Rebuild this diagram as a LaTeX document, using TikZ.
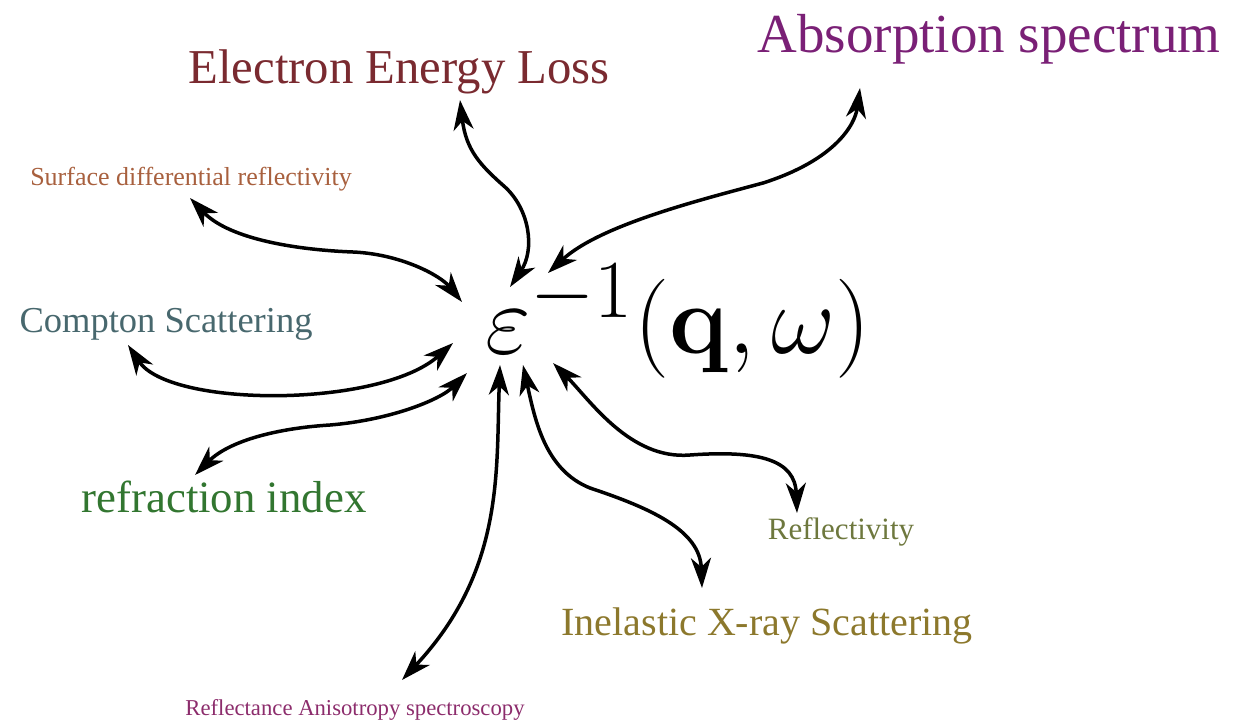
\documentclass[tikz,border=0pt]{standalone}
\usepackage{graphicx}
\usepackage[no-math]{fontspec}
\setmainfont{Liberation Serif}
\usetikzlibrary{arrows.meta}
\definecolor{cAbs}{RGB}{122,32,118}
\definecolor{cEel}{RGB}{122,42,48}
\definecolor{cSdr}{RGB}{168,96,62}
\definecolor{cCom}{RGB}{72,104,110}
\definecolor{cRef}{RGB}{50,118,48}
\definecolor{cRfl}{RGB}{110,120,62}
\definecolor{cIxs}{RGB}{140,120,44}
\definecolor{cRas}{RGB}{140,44,108}
\tikzset{
  lbl/.style={anchor=base, inner sep=0pt, outer sep=0pt},
  head/.tip={Stealth[length=30pt,width=20pt,inset=9pt]},
  link/.style={line width=3.5pt, head-head}
}
\begin{document}
\begin{tikzpicture}[x=1pt,y=-1pt]
\useasboundingbox (0,0) rectangle (1236,723);
% labels
\node[lbl, text=cAbs, font=\fontsize{55}{60}\selectfont] (abs) at (989,52) {Absorption spectrum};
\node[lbl, text=cEel, font=\fontsize{48.7}{55}\selectfont] (eel) at (399,83) {Electron Energy Loss};
\node[lbl, text=cSdr, font=\fontsize{26}{30}\selectfont] (sdr) at (191,185) {Surface differential reflectivity};
\node[lbl, text=cCom, font=\fontsize{36.5}{40}\selectfont] (com) at (166,332) {Compton Scattering};
\node[lbl, text=cRef, font=\fontsize{44.8}{50}\selectfont] (rix) at (224,512) {refraction index};
\node[lbl, text=cRfl, font=\fontsize{31}{35}\selectfont] (rfl) at (841,539) {Reflectivity};
\node[lbl, text=cIxs, font=\fontsize{40}{45}\selectfont] (ixs) at (767,635) {Inelastic X-ray Scattering};
\node[lbl, text=cRas, font=\fontsize{22.7}{26}\selectfont] (ras) at (355,715) {Reflectance Anisotropy spectroscopy};
% formula
\node[anchor=base west, inner sep=0pt] (eps) at (485,353) {\scalebox{3.98}{\fontsize{24.88}{30}\selectfont$\varepsilon^{-1}(\mathbf{q},\omega)$}};
% arrow end points
\coordinate (tAbs) at (860,88);   \coordinate (hAbs) at (548,273);
\coordinate (tEel) at (460,100);  \coordinate (hEel) at (510,287);
\coordinate (tSdr) at (190,198);  \coordinate (hSdr) at (462,302);
\coordinate (tCom) at (128,345);  \coordinate (hCom) at (453,343);
\coordinate (tRix) at (195,475);  \coordinate (hRix) at (467,373);
\coordinate (tRas) at (402,680);  \coordinate (hRas) at (500,365);
\coordinate (tIxs) at (702,588);  \coordinate (hIxs) at (523,365);
\coordinate (tRfl) at (797,513);  \coordinate (hRfl) at (553,363);
% connectors
\draw[link] (tEel) .. controls (466,150) and (480,165) .. (505,187) .. controls (530,210) and (535,250) .. (hEel);
\draw[link] (hAbs) .. controls (600,225) and (700,200) .. (763,183) .. controls (835,160) and (855,125) .. (tAbs);
\draw[link] (tSdr) .. controls (230,240) and (300,250) .. (353,252) .. controls (400,254) and (440,275) .. (hSdr);
\draw[link] (tCom) .. controls (170,408) and (380,408) .. (hCom);
\draw[link] (tRix) .. controls (230,440) and (280,428) .. (330,425) .. controls (390,420) and (440,400) .. (hRix);
\draw[link] (hRas) .. controls (496,470) and (505,570) .. (tRas);
\draw[link] (hIxs) .. controls (535,420) and (545,470) .. (590,488) .. controls (650,508) and (700,530) .. (tIxs);
\draw[link] (hRfl) .. controls (590,400) and (630,460) .. (690,455) .. controls (760,450) and (795,460) .. (tRfl);
\end{tikzpicture}
\end{document}
